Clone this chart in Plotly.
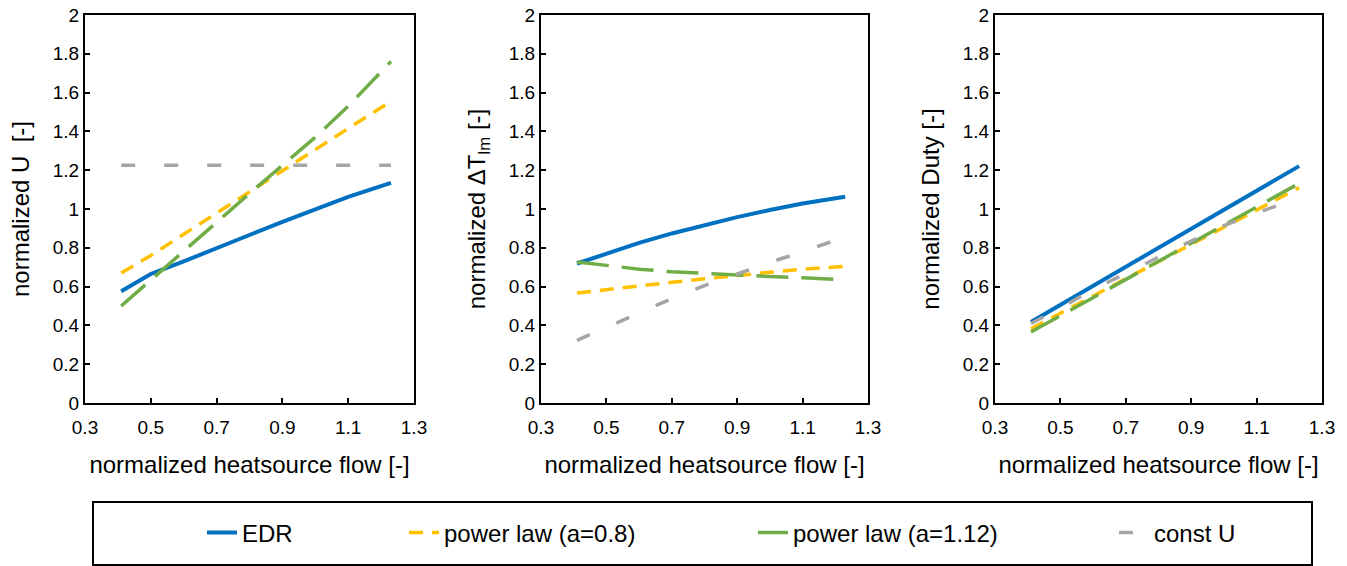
import plotly.graph_objects as go

# ---------------- data ----------------
flow = [0.41, 0.5, 0.6, 0.7, 0.8, 0.9, 1.0, 1.1, 1.23]

u_edr = [0.576, 0.665, 0.73, 0.796, 0.866, 0.934, 1.0, 1.063, 1.135]
u_pl08 = [0.67, 0.76, 0.87, 0.98, 1.09, 1.20, 1.31, 1.415, 1.555]
u_pl112 = [0.50, 0.635, 0.785, 0.935, 1.08, 1.225, 1.37, 1.53, 1.76]
u_const = [1.226, 1.226, 1.226, 1.226, 1.226, 1.226, 1.226, 1.226, 1.226]

dt_edr = [0.719, 0.77, 0.825, 0.874, 0.917, 0.958, 0.995, 1.028, 1.063]
dt_pl08 = [0.567, 0.585, 0.604, 0.622, 0.64, 0.659, 0.674, 0.689, 0.705]
dt_pl112 = [0.727, 0.71, 0.69, 0.676, 0.667, 0.659, 0.652, 0.645, 0.636]
dt_const = [0.323, 0.39, 0.46, 0.538, 0.605, 0.667, 0.725, 0.779, 0.857]

q_edr = [0.418, 0.506, 0.604, 0.702, 0.80, 0.898, 0.996, 1.094, 1.221]
q_pl08 = [0.383, 0.463, 0.551, 0.64, 0.728, 0.817, 0.905, 0.994, 1.11]
q_pl112 = [0.366, 0.45, 0.543, 0.637, 0.73, 0.823, 0.917, 1.01, 1.132]
q_const = [0.41, 0.49, 0.585, 0.67, 0.755, 0.835, 0.915, 0.98, 1.06]

series_names = ["EDR", "power law (a=0.8)", "power law (a=1.12)", "const U"]
panel_data = [
    [u_edr, u_pl08, u_pl112, u_const],
    [dt_edr, dt_pl08, dt_pl112, dt_const],
    [q_edr, q_pl08, q_pl112, q_const],
]
y_titles = ["normalized U  [-]", "normalized ΔT<sub>lm</sub> [-]", "normalized Duty [-]"]
x_title = "normalized heatsource flow [-]"

# ---------------- style ----------------
colors = ["#0070C0", "#FFC000", "#70AD47", "#A5A5A5"]
dashes = ["solid", "14px,9px", "32px,13px", "14px,29px"]
widths = [4, 3.5, 3.5, 3.5]
FONT = "Liberation Sans, Arial, sans-serif"

W, H = 1347, 566
x_domains = [(85, 414), (541, 868), (995, 1322)]
y_dom = [(566 - 403) / H, (566 - 15) / H]

fig = go.Figure()
for p, ys in enumerate(panel_data):
    for s, yv in enumerate(ys):
        fig.add_trace(go.Scatter(
            x=flow, y=yv, mode="lines", name=series_names[s],
            line=dict(color=colors[s], width=widths[s], dash=dashes[s]),
            xaxis="x" if p == 0 else f"x{p+1}",
            yaxis="y" if p == 0 else f"y{p+1}",
            showlegend=(p == 0),
            legend="legend" if s == 0 else f"legend{s+1}",
        ))

layout = dict(
    width=W, height=H, template="none",
    paper_bgcolor="white", plot_bgcolor="white",
    margin=dict(l=0, r=0, t=0, b=0),
    font=dict(family=FONT, color="black", size=19),
)

for p in range(3):
    xa = dict(
        domain=[x_domains[p][0] / W, x_domains[p][1] / W],
        range=[0.3, 1.3], tick0=0.3, dtick=0.2,
        ticks="inside", ticklen=5, tickwidth=1.5, tickcolor="black",
        showline=True, linecolor="black", linewidth=2, mirror=True,
        showgrid=False, zeroline=False, automargin=False,
        ticklabelstandoff=6,
        tickfont=dict(size=19, family=FONT),
        title=dict(text=x_title, font=dict(size=24, family=FONT), standoff=19),
        anchor="y" if p == 0 else f"y{p+1}",
    )
    ya = dict(
        domain=y_dom, range=[0, 2], tick0=0, dtick=0.2,
        ticks="inside", ticklen=5, tickwidth=1.5, tickcolor="black",
        showline=True, linecolor="black", linewidth=2, mirror=True,
        showgrid=False, zeroline=False, automargin=False,
        tickfont=dict(size=19, family=FONT),
        title=dict(text=y_titles[p], font=dict(size=24, family=FONT), standoff=16),
        anchor="x" if p == 0 else f"x{p+1}",
    )
    layout["xaxis" if p == 0 else f"xaxis{p+1}"] = xa
    layout["yaxis" if p == 0 else f"yaxis{p+1}"] = ya

# legends: one per series, placed along the bottom box
text_starts = [245, 447, 796, 1157]
for s in range(4):
    key = "legend" if s == 0 else f"legend{s+1}"
    layout[key] = dict(
        x=(text_starts[s] - 43) / W, xanchor="left",
        y=(566 - 533) / H, yanchor="middle",
        orientation="h", bgcolor="rgba(0,0,0,0)", borderwidth=0,
        font=dict(size=24, family=FONT), itemwidth=30,
    )

fig.update_layout(**layout)

# legend frame
fig.add_shape(type="rect", xref="paper", yref="paper",
              x0=93 / W, x1=1312 / W, y0=(566 - 565) / H, y1=(566 - 502) / H,
              line=dict(color="black", width=2), fillcolor="rgba(0,0,0,0)")

fig.write_html("out.html",
               config={"displayModeBar": False},
               post_script="document.body.style.margin='0';document.body.style.overflow='hidden';")
